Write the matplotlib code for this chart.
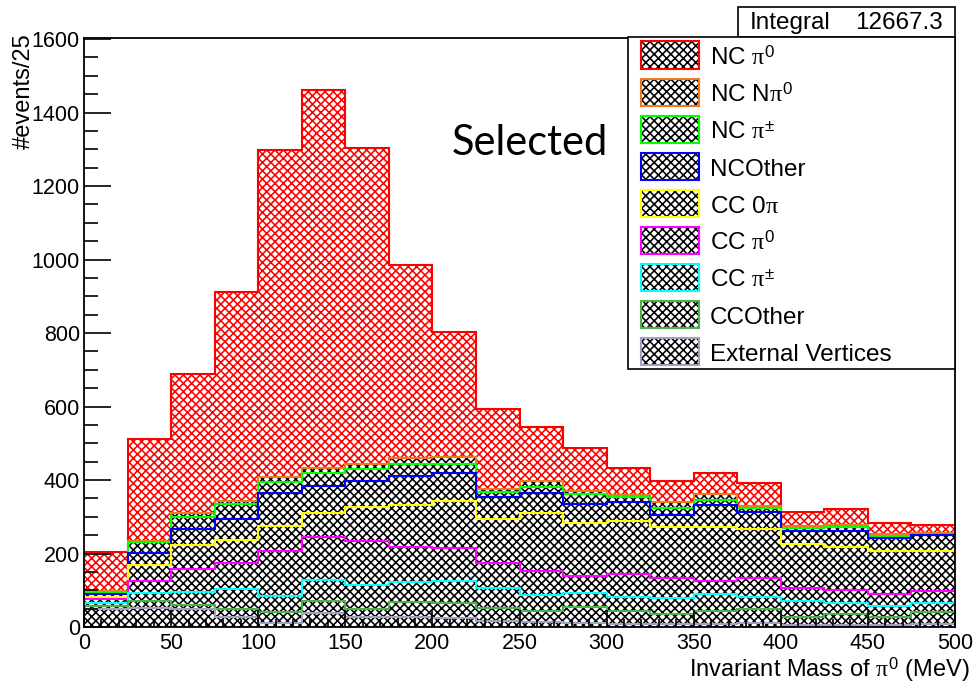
import numpy as np
import matplotlib.pyplot as plt
from matplotlib.patches import Rectangle
from matplotlib.ticker import MultipleLocator

plt.rcParams['font.family'] = ['Liberation Sans', 'DejaVu Sans']
plt.rcParams['mathtext.fontset'] = 'custom'
plt.rcParams['mathtext.rm'] = 'Liberation Sans'
plt.rcParams['mathtext.it'] = 'Liberation Serif'
plt.rcParams['hatch.linewidth'] = 1.15

W, H = 976, 684
bin_edges = np.arange(0, 525, 25)   # 20 bins of 25 MeV

# events per bin, one array per category (bottom of the stack first)
ext_vtx  = [50, 51, 50, 27, 12, 39, 27, 27, 24, 16, 13, 11, 8, 8, 9, 10, 5, 5, 5, 8]
cc_other = [8, 20, 11, 23, 28, 32, 23, 42, 41, 37, 30, 44, 35, 27, 35, 38, 23, 30, 22, 33]
cc_pipm  = [6, 22, 34, 54, 44, 58, 63, 53, 60, 54, 44, 38, 40, 45, 47, 35, 43, 30, 31, 24]
cc_pi0   = [11, 32, 64, 69, 122, 117, 121, 97, 89, 68, 66, 46, 62, 54, 34, 50, 36, 37, 33, 33]
cc_0pi   = [7, 43, 64, 65, 69, 64, 93, 112, 129, 120, 156, 143, 144, 139, 146, 134, 119, 115, 116, 109]
nc_other = [8, 33, 45, 57, 90, 73, 70, 80, 76, 58, 57, 54, 50, 32, 60, 45, 36, 45, 34, 44]
nc_pipm  = [6, 31, 32, 39, 30, 36, 32, 33, 25, 14, 16, 26, 14, 20, 14, 12, 7, 9, 7, 3]
nc_npi0  = [2, 2, 10, 10, 14, 15, 15, 16, 20, 8, 14, 9, 7, 14, 16, 6, 6, 6, 6, 3]
nc_pi0   = [106, 279, 379, 569, 890, 1027, 860, 524, 340, 217, 149, 115, 72, 57, 58, 61, 38, 45, 29, 20]

stack = [ext_vtx, cc_other, cc_pipm, cc_pi0, cc_0pi, nc_other, nc_pipm, nc_npi0, nc_pi0]
labels = ['External Vertices', 'CCOther', r'CC $\pi^{\pm}$', r'CC $\pi^{0}$', r'CC 0$\pi$',
          'NCOther', r'NC $\pi^{\pm}$', r'NC N$\pi^{0}$', r'NC $\pi^{0}$']
colors = ['#a0a0c0', '#48b448', '#00ffff', '#ff00ff', '#ffff00',
          '#0000ff', '#00ff00', '#f07820', '#ff0000']
integral = 12667.3

fig = plt.figure(figsize=(W / 100, H / 100), dpi=100)
ax = fig.add_axes([84 / W, 1 - 627 / H, 871 / W, 589 / H])

# filled checker-like stack
bottom = np.zeros(len(bin_edges) - 1)
tops = []
for vals, col in zip(stack, colors):
    top = bottom + np.array(vals, dtype=float)
    hcol = 'red' if col == '#ff0000' else 'black'
    ax.stairs(top, bin_edges, baseline=bottom, fill=True, facecolor='white',
              edgecolor=hcol, hatch='xxxx', lw=0)
    tops.append(top)
    bottom = top

# outlines, drawn top-down like THStack
for top, col in reversed(list(zip(tops, colors))):
    ax.stairs(top, bin_edges, baseline=None, color=col, lw=1.5)

ax.set_xlim(0, 500)
ax.set_ylim(0, 1603)
ax.xaxis.set_major_locator(MultipleLocator(50))
ax.xaxis.set_minor_locator(MultipleLocator(10))
ax.yaxis.set_major_locator(MultipleLocator(200))
ax.yaxis.set_minor_locator(MultipleLocator(50))
ax.tick_params(which='both', direction='in', top=False, right=False, width=1.2, labelsize=15.5)
ax.tick_params(axis='y', which='major', length=19.5, pad=3)
ax.tick_params(axis='y', which='minor', length=10)
ax.tick_params(axis='x', which='major', length=12.5, pad=4)
ax.tick_params(axis='x', which='minor', length=6)
for s in ax.spines.values():
    s.set_linewidth(1.3)

fig.text(970 / W, 1 - 677 / H, r'Invariant Mass of $\pi^{0}$ (MeV)', ha='right',
         va='baseline', fontsize=17)
fig.text(24 / W, 1 - 33 / H, '#events/25', rotation=90, ha='center', va='top', fontsize=17)

fig.text(452 / W, 1 - 155 / H, 'Selected', family='Lato', fontsize=30, va='baseline')

# stats box
fig.patches.append(Rectangle((738 / W, 1 - 37 / H), (955 - 738) / W, 30 / H,
                             transform=fig.transFigure, facecolor='white',
                             edgecolor='black', lw=1.2))
fig.text(750 / W, 1 - 29 / H, 'Integral', fontsize=17.5, va='baseline')
fig.text(943 / W, 1 - 29 / H, f'{integral:.1f}', fontsize=17.5, va='baseline', ha='right')

# legend box
fig.patches.append(Rectangle((628 / W, 1 - 369 / H), (955 - 628) / W, (369 - 37) / H,
                             transform=fig.transFigure, facecolor='white',
                             edgecolor='black', lw=1.2))
for i, (lab, col) in enumerate(zip(labels[::-1], colors[::-1])):
    yc = 55 + 37 * i
    y0 = 1 - (yc + 13.5) / H
    fig.patches.append(Rectangle((641 / W, y0), 58 / W, 27 / H, transform=fig.transFigure,
                                 facecolor='white', edgecolor='black', hatch='xxxx', lw=0))
    fig.patches.append(Rectangle((641 / W, y0), 58 / W, 27 / H, transform=fig.transFigure,
                                 fill=False, edgecolor=col, lw=1.5))
    fig.text(710 / W, 1 - (yc + 10) / H, lab, fontsize=17.5, va='baseline')

fig.savefig('out.png', dpi=100)
